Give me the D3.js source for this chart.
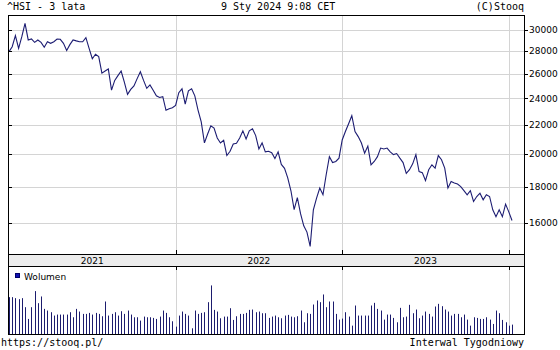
<!DOCTYPE html>
<html lang="pl">
<head>
<meta charset="utf-8">
<script src="https://cdn.jsdelivr.net/npm/d3@7/dist/d3.min.js"></script>
<style>
  body { margin: 0; background: #fff; }
  svg { display: block; }
  .mono { font-family: "DejaVu Sans Mono", monospace; font-size: 10px; }
  .sans { font-family: "DejaVu Sans", Verdana, sans-serif; font-size: 9px; }
</style>
</head>
<body>
<div id="chart"></div>
<script>
// ^HSI weekly closes, 2021-01-08 .. 2024-01-09
const closes = [
  27950, 28400, 29450, 28250, 29350, 30650, 29040, 29130, 28810, 29040,
  28810, 28350, 28870, 28720, 28870, 29130, 29100, 28720, 28050, 28600,
  29040, 28950, 28870, 28870, 29260, 28250, 27310, 27720, 27500, 26060,
  26240, 26420, 24650, 25450, 25850, 26240, 25300, 24320, 24710, 25000,
  25600, 26180, 25450, 24800, 25080, 24650, 24200, 24070, 24130, 23090,
  23200, 23280,
  23460, 24450, 24760, 23560, 24600, 24760, 24200, 23100, 22230, 20760,
  21370, 21950, 21780, 21090, 20750, 20930, 19920, 20200, 20690, 20740,
  21090, 21590, 21020, 21590, 21730, 21260, 20350, 20760, 20160, 20200,
  20100, 19730, 20160, 19350, 19110, 18520, 17760, 16700, 17370, 16480,
  15840, 15520, 14810, 16690, 17340, 17920, 17530, 18710, 19850, 19470,
  19540, 19750,
  20960, 21540, 22100, 22680, 21540, 21190, 20750, 20070, 20540, 19320,
  19540, 19850, 20410, 20350, 20410, 20160, 19980, 20050, 19750, 19470,
  18800, 19020, 19390, 19980, 18910, 18840, 18360, 19020, 19330, 19120,
  19920, 19650, 19120, 17920, 18310, 18210, 18150, 18000, 17770, 17530,
  17770, 17150, 17430, 17620, 17240, 17530, 17430, 16690, 16320, 16690,
  16320, 17000, 16580, 16120
];

// weekly volume, arbitrary units (relative bar heights)
const volumes = [
  110, 110, 107, 104, 107, 80, 45, 80, 128, 92,
  112, 75, 70, 65, 55, 58, 58, 58, 58, 65,
  50, 75, 67, 60, 60, 63, 58, 63, 60, 53,
  97, 55, 60, 65, 55, 68, 60, 70, 58, 50,
  50, 40, 52, 50, 50, 48, 45, 52, 70, 63,
  50, 38, 22, 55, 67, 60, 55, 17, 70, 60,
  63, 65, 95, 145, 72, 67, 47, 52, 52, 77,
  42, 53, 60, 60, 63, 72, 73, 65, 67, 62,
  62, 48, 52, 55, 50, 47, 55, 57, 52, 50,
  53, 70, 35, 62, 60, 88, 100, 95, 118, 80,
  97, 97, 60, 43, 46, 65, 52, 25, 85, 55,
  55, 55, 55, 85, 93, 75, 70, 43, 58, 58,
  48, 35, 78, 50, 52, 87, 62, 73, 47, 55,
  67, 60, 52, 82, 90, 83, 73, 67, 55, 60,
  60, 50, 58, 43, 25, 50, 48, 45, 45, 50,
  43, 30, 70, 62, 42, 35, 25, 28
];

const yearLabels = ["2021", "2022", "2023"];
const priceTicks = [16000, 18000, 20000, 22000, 24000, 26000, 28000, 30000];

const title = "^HSI - 3 lata";
const stamp = "9 Sty 2024 9:08 CET";
const copyright = "(C)Stooq";
const site = "https://stooq.pl/";
const interval = "Interwal Tygodniowy";
const volLabel = "Wolumen";

const width = 560, height = 350;
const plotL = 8, plotR = 524;
const plotT = 15, bandT = 254, bandB = 266, volB = 334;

// week dates: Fridays from 2021-01-08, last point is the current (partial) week
const start = new Date(2021, 0, 8);
const dates = closes.map((d, i) => d3.timeDay.offset(start, 7 * i));
dates[dates.length - 1] = new Date(2024, 0, 9);

const x = d3.scaleLinear().domain([0, closes.length - 1]).range([9, 512]);
const y = d3.scaleLog().domain([14450, 31500]).range([bandT, plotT]);
const yv = d3.scaleLinear().domain([0, 200]).range([volB, bandB + 1]);

// first week index of each year (plus 2024)
const yearStart = [2021, 2022, 2023, 2024].map(yr => dates.findIndex(d => d.getFullYear() === yr));

const svg = d3.select("#chart").append("svg")
  .attr("width", width)
  .attr("height", height);

const crisp = v => Math.round(v) + 0.5;

// horizontal grid
svg.append("g").selectAll("line")
  .data(priceTicks)
  .join("line")
  .attr("x1", plotL).attr("x2", plotR)
  .attr("y1", d => crisp(y(d))).attr("y2", d => crisp(y(d)))
  .attr("stroke", "#d4d4d4");

// vertical year grid, price + volume panels
const yearLines = yearStart.slice(1);
svg.append("g").selectAll("line")
  .data(yearLines)
  .join("line")
  .attr("x1", d => crisp(x(d))).attr("x2", d => crisp(x(d)))
  .attr("y1", plotT).attr("y2", bandT)
  .attr("stroke", "#d4d4d4");
svg.append("g").selectAll("line")
  .data(yearLines)
  .join("line")
  .attr("x1", d => crisp(x(d))).attr("x2", d => crisp(x(d)))
  .attr("y1", bandB).attr("y2", volB)
  .attr("stroke", "#d4d4d4");

// year band
svg.append("rect")
  .attr("x", plotL).attr("y", bandT)
  .attr("width", plotR - plotL).attr("height", bandB - bandT)
  .attr("fill", "#ececec");

svg.append("g").selectAll("text")
  .data(yearLabels)
  .join("text")
  .attr("class", "sans")
  .attr("x", (d, i) => (x(yearStart[i]) + x(yearStart[i + 1])) / 2)
  .attr("y", bandB - 2)
  .attr("text-anchor", "middle")
  .text(d => d);

// year ticks above/below band
const ticks = svg.append("g").attr("stroke", "#000");
yearLines.forEach(d => {
  ticks.append("line")
    .attr("x1", crisp(x(d))).attr("x2", crisp(x(d)))
    .attr("y1", bandT - 4).attr("y2", bandT);
  ticks.append("line")
    .attr("x1", crisp(x(d))).attr("x2", crisp(x(d)))
    .attr("y1", bandB).attr("y2", bandB + 4);
});

// price line
svg.append("path")
  .datum(closes)
  .attr("fill", "none")
  .attr("stroke", "#1c1c72")
  .attr("stroke-width", 1.1)
  .attr("d", d3.line().x((d, i) => x(i)).y(d => y(d)));

// volume bars
svg.append("g").selectAll("line")
  .data(volumes)
  .join("line")
  .attr("x1", (d, i) => crisp(x(i))).attr("x2", (d, i) => crisp(x(i)))
  .attr("y1", d => yv(d)).attr("y2", volB)
  .attr("stroke", "#1c1c6e");

// frames
const frame = svg.append("g").attr("stroke", "#000").attr("fill", "none");
[plotT, bandT, bandB, volB].forEach(v => {
  frame.append("line").attr("x1", plotL).attr("x2", plotR + 0.5).attr("y1", v + 0.5).attr("y2", v + 0.5);
});
[plotL, plotR].forEach(v => {
  frame.append("line").attr("x1", v + 0.5).attr("x2", v + 0.5).attr("y1", plotT).attr("y2", volB + 1);
});

// price axis on the right
const axis = svg.append("g");
axis.selectAll("line.out")
  .data(priceTicks)
  .join("line")
  .attr("class", "out")
  .attr("x1", plotR).attr("x2", plotR + 4)
  .attr("y1", d => crisp(y(d))).attr("y2", d => crisp(y(d)))
  .attr("stroke", "#000");
axis.selectAll("line.in")
  .data(priceTicks)
  .join("line")
  .attr("class", "in")
  .attr("x1", plotL).attr("x2", plotL + 4)
  .attr("y1", d => crisp(y(d))).attr("y2", d => crisp(y(d)))
  .attr("stroke", "#000");
axis.selectAll("text")
  .data(priceTicks)
  .join("text")
  .attr("class", "sans")
  .attr("x", plotR + 5)
  .attr("y", d => y(d))
  .attr("dy", "0.35em")
  .text(d => d);

// volume legend
svg.append("rect")
  .attr("x", 15.5).attr("y", 273.5)
  .attr("width", 4).attr("height", 4)
  .attr("fill", "#1010b0")
  .attr("stroke", "#00006a");
svg.append("text")
  .attr("class", "sans")
  .attr("x", 24).attr("y", 279.5)
  .text(volLabel);

// header and footer
svg.append("text").attr("class", "mono").attr("x", 7).attr("y", 10).text(title);
svg.append("text").attr("class", "mono").attr("x", 221).attr("y", 10).text(stamp);
svg.append("text").attr("class", "mono").attr("x", 524).attr("y", 10)
  .attr("text-anchor", "end").text(copyright);
svg.append("text").attr("class", "mono").attr("x", 1).attr("y", 346).text(site);
svg.append("text").attr("class", "mono").attr("x", 524).attr("y", 346)
  .attr("text-anchor", "end").text(interval);
</script>
</body>
</html>
